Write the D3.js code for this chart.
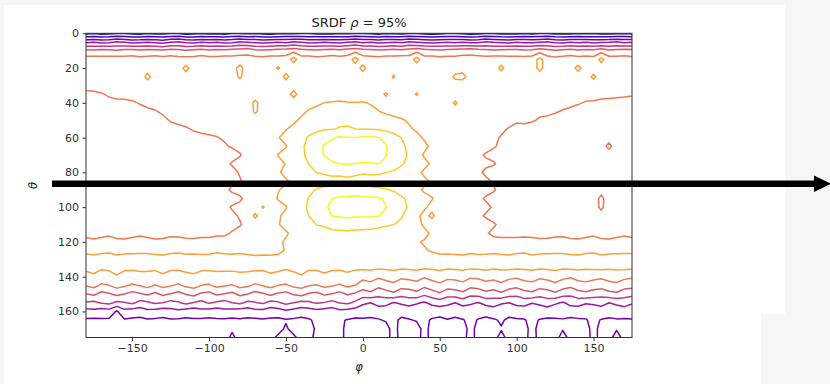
<!DOCTYPE html>
<html>
<head>
<meta charset="utf-8">
<script src="https://cdn.jsdelivr.net/npm/d3@7"></script>
<style>
  body { margin: 0; background: #fff; }
  svg { display: block; }
  text { font-family: "DejaVu Sans", sans-serif; white-space: pre; }
</style>
</head>
<body>
<svg id="chart" width="830" height="384"></svg>
<script>
// Grid of the SRDF histogram: phi columns from -180 to 175, theta rows from 0 to 175 (5 degree bins)
const phiStart = -180, phiStep = 5, phiCount = 72;
const thetaStart = 0, thetaStep = 5, thetaCount = 36;

// Contour levels drawn on the SRDF surface
const levels = [1, 2, 3, 4, 5, 6, 7, 8, 9, 10];

// Axis tick labels
const xTicks = [-150, -100, -50, 0, 50, 100, 150];
const yTicks = [0, 20, 40, 60, 80, 100, 120, 140, 160];

// SRDF values, one row per theta bin (72 phi bins each)
const srdf = [
[0.8,0.9,0.7,0.8,0.95,0.9,0.8,0.7,0.9,0.8,0.8,0.95,0.9,0.7,0.8,0.9,0.8,0.8,0.7,0.9,0.95,0.8,0.9,0.8,0.7,0.8,0.9,0.8,0.95,0.9,0.8,0.7,0.8,0.9,0.8,0.9,0.95,0.8,0.7,0.9,0.8,0.8,0.9,0.95,0.8,0.7,0.8,0.9,0.9,0.8,0.7,0.8,0.95,0.9,0.8,0.8,0.7,0.9,0.8,0.9,0.95,0.8,0.8,0.7,0.9,0.8,0.9,0.8,0.7,0.8,0.9,0.8],
[3.8,3.9,3.7,3.8,4.05,3.9,3.7,3.8,3.9,3.8,3.6,3.9,4.05,3.8,3.7,3.9,3.8,3.9,3.7,3.8,4.05,3.9,3.8,3.7,3.8,3.9,3.8,4.05,3.9,3.7,3.8,3.9,3.8,3.7,3.9,4.05,3.8,3.9,3.7,3.8,3.9,3.8,4.05,3.9,3.8,3.7,3.8,3.9,3.8,3.9,3.7,3.8,4.05,3.9,3.8,3.7,3.9,3.8,3.8,3.9,4.05,3.8,3.7,3.9,3.8,3.9,3.7,3.8,3.9,4.05,3.8,3.9],
[6.3,6.2,6.4,6.3,6.1,6.3,6.4,6.2,6.3,6.3,6.2,6.4,6.3,6.1,6.3,6.4,6.2,6.3,6.3,6.4,6.5,6.7,6.3,6.2,6.3,6.4,6.5,6.7,6.4,6.3,6.2,6.3,6.4,6.3,6.5,6.7,6.4,6.3,6.2,6.3,6.4,6.3,6.5,6.7,6.4,6.3,6.2,6.3,6.4,6.5,6.7,6.4,6.3,6.2,6.3,6.4,6.3,6.2,6.3,6.6,6.3,6.1,6.3,6.4,6.2,6.3,6.3,6.6,6.2,6.3,6.4,6.3],
[7.4,7.45,7.35,7.4,7.5,7.4,7.45,7.35,7.4,7.5,7.4,7.45,7.35,7.4,7.35,7.5,7.4,7.35,7.45,7.4,7.45,7.3,7.4,7.35,7.45,7.4,7.4,8.4,7.4,7.45,7.35,7.4,7.5,7.4,7.4,8.4,7.45,7.4,7.35,7.45,7.4,7.5,7.4,8.4,7.4,7.45,7.35,7.4,7.35,7.45,7.3,7.45,7.4,7.5,7.45,7.35,7.4,7.4,7.45,8.3,7.45,7.35,7.4,7.5,7.4,7.45,7.35,8.3,7.45,7.4,7.45,7.35],
[7.5,7.4,7.5,7.6,7.5,7.4,7.5,7.5,7.6,7.5,7.4,7.5,7.5,8.3,7.5,7.6,7.4,7.5,7.5,7.6,8.3,7.5,7.4,7.5,7.6,8.1,7.5,7.4,7.5,7.6,7.5,7.4,7.5,7.5,7.6,7.5,8.3,7.5,7.4,7.5,7.6,7.5,7.5,7.4,7.5,7.6,7.5,7.4,7.5,7.6,7.5,7.4,7.5,7.5,8.25,7.5,7.4,7.6,7.5,8.3,7.5,7.4,7.5,7.6,8.3,7.5,7.4,7.5,7.6,7.5,7.4,7.5],
[7.4,7.5,7.5,7.4,7.5,7.6,7.5,7.4,8.3,7.5,7.5,7.4,7.5,7.6,7.5,7.4,7.5,7.5,7.4,7.5,8.15,7.5,7.4,7.5,7.5,7.4,8.3,7.5,7.5,7.4,7.6,7.5,7.4,7.5,7.5,7.4,7.5,7.6,7.5,7.5,8.1,7.4,7.5,7.5,7.6,7.5,7.4,7.5,8.2,8.3,7.5,7.4,7.5,7.5,7.4,7.5,7.6,7.5,7.4,7.5,7.5,7.4,7.5,7.6,7.5,7.5,8.25,7.4,7.5,7.5,7.4,7.5],
[7.2,7.2,7.3,7.4,7.4,7.5,7.4,7.3,7.4,7.4,7.5,7.4,7.3,7.4,7.5,7.4,7.4,7.3,7.4,7.4,7.5,7.4,7.4,7.5,7.4,7.5,7.4,7.6,7.4,7.4,7.5,7.4,7.3,7.4,7.5,7.4,7.4,7.5,7.4,7.4,7.5,7.4,7.4,7.5,7.4,7.3,7.4,7.4,7.5,7.4,7.4,7.3,7.4,7.4,7.5,7.4,7.4,7.3,7.4,7.5,7.4,7.4,7.3,7.4,7.5,7.4,7.4,7.3,7.4,7.3,7.3,7.2],
[6.85,6.9,6.95,7.1,7.2,7.3,7.3,7.2,7.3,7.3,7.4,7.3,7.3,7.2,7.3,7.4,7.3,7.3,7.2,7.3,7.3,7.4,7.3,7.4,7.5,7.5,7.6,8.3,7.6,7.5,7.5,7.6,7.6,7.6,7.5,7.6,7.6,7.6,7.7,8.1,7.6,7.5,7.5,8.1,7.4,7.3,7.4,7.3,7.3,7.4,7.3,7.3,7.3,7.3,7.4,7.3,7.3,7.2,7.3,7.3,7.4,7.3,7.2,7.3,7.3,7.2,7.3,7.2,7.2,7.15,7.1,7.05],
[6.8,6.8,6.75,6.8,6.85,6.8,6.9,7.05,7.2,7.25,7.3,7.2,7.3,7.25,7.3,7.2,7.3,7.3,7.2,7.3,7.3,7.3,8.3,7.4,7.4,7.4,7.3,7.5,7.6,7.7,7.8,8.02,8.05,8.1,8.05,8.02,8.05,7.95,7.8,7.7,7.6,7.5,7.4,7.4,7.3,7.4,7.3,7.3,8.2,7.3,7.3,7.2,7.3,7.3,7.3,7.2,7.3,7.3,7.2,7.3,7.2,7.2,7.2,7.1,7.05,6.95,6.9,6.85,6.8,6.8,6.8,6.8],
[6.7,6.7,6.65,6.7,6.7,6.75,6.7,6.75,6.85,6.95,7.1,7.15,7.2,7.15,7.2,7.15,7.2,7.25,7.2,7.3,7.3,7.3,8.2,7.5,7.4,7.4,7.5,7.6,7.8,8.1,8.3,8.45,8.5,8.55,8.55,8.5,8.4,8.2,8.03,7.85,7.7,7.6,7.5,7.45,7.4,7.4,7.3,7.3,7.4,7.3,7.3,7.3,7.2,7.2,7.3,7.2,7.2,7.3,7.2,7.1,7.15,7.05,6.95,6.9,6.8,6.75,6.7,6.7,6.75,6.7,6.7,6.7],
[6.7,6.65,6.7,6.7,6.6,6.7,6.7,6.65,6.7,6.75,6.85,7.05,7.1,7.15,7.1,7.2,7.15,7.2,7.2,7.25,7.3,7.3,7.35,7.4,7.4,7.5,7.6,7.85,8.15,8.35,8.55,8.7,8.8,8.85,8.9,8.85,8.8,8.7,8.55,8.4,8.25,8.1,7.9,7.7,7.5,7.4,7.35,7.3,7.3,7.3,7.25,7.2,7.25,7.2,7.15,7.1,7.05,7.1,7.05,6.95,6.85,6.8,6.75,6.7,6.7,6.65,6.7,6.7,6.6,6.7,6.7,6.65],
[6.65,6.7,6.6,6.7,6.7,6.65,6.6,6.7,6.7,6.65,6.7,6.8,6.9,6.95,7.05,7.1,7.1,7.15,7.2,7.2,7.25,7.3,7.35,7.4,7.5,7.7,7.95,8.2,8.45,8.65,8.8,8.9,8.95,9.05,9.05,9.0,8.95,8.95,8.9,8.75,8.55,8.35,8.1,7.9,7.7,7.5,7.4,7.35,7.3,7.3,7.2,7.2,7.15,7.1,7.05,6.98,6.9,6.85,6.8,6.75,6.7,6.7,6.65,6.7,6.6,6.7,6.65,6.7,6.7,6.6,6.7,6.7],
[6.6,6.65,6.7,6.6,6.65,6.7,6.6,6.65,6.7,6.6,6.65,6.7,6.75,6.8,6.85,6.9,6.95,6.98,7.05,7.1,7.2,7.3,7.3,7.4,7.6,7.95,8.3,8.45,8.75,9.1,9.4,9.65,9.9,10.1,10.05,10.02,10.1,10.1,10.05,9.8,9.4,9.0,8.6,8.2,7.9,7.6,7.4,7.35,7.3,7.25,7.2,7.2,7.1,7.05,6.98,6.9,6.8,6.75,6.7,6.7,6.65,6.6,6.7,6.65,6.6,6.7,6.6,6.65,6.7,6.6,6.65,6.7],
[6.6,6.6,6.65,6.7,6.6,6.6,6.7,6.65,6.6,6.6,6.7,6.65,6.7,6.7,6.75,6.8,6.85,6.9,6.95,7.05,7.15,7.3,7.3,7.35,7.6,7.6,7.95,8.5,8.85,9.25,9.7,10.1,10.4,10.5,10.5,10.5,10.5,10.4,10.3,10.05,9.6,9.2,8.8,8.4,8.2,7.8,7.5,7.4,7.3,7.2,7.2,7.15,7.15,7.05,6.9,6.8,6.75,6.7,6.7,6.65,6.6,6.7,6.65,6.6,6.7,6.6,6.6,6.65,7.2,6.6,6.65,6.6],
[6.6,6.65,6.6,6.6,6.7,6.65,6.6,6.6,6.7,6.65,6.6,6.7,6.65,6.7,6.7,6.75,6.8,6.8,6.85,6.8,6.95,7.25,7.3,7.35,7.55,8.05,8.3,8.45,8.85,9.2,9.6,10.05,10.3,10.4,10.4,10.4,10.3,10.3,10.2,10.05,9.6,9.25,8.9,8.3,7.9,7.6,7.5,7.4,7.3,7.2,7.2,7.1,6.95,6.85,6.8,6.8,6.7,6.7,6.65,6.6,6.7,6.6,6.6,6.65,6.7,6.6,6.6,6.7,6.6,6.65,6.6,6.6],
[6.6,6.6,6.7,6.65,6.6,6.6,6.65,6.7,6.6,6.6,6.65,6.6,6.7,6.65,6.7,6.75,6.75,6.8,6.85,7.05,7.2,7.2,7.3,7.35,7.5,7.7,8.05,8.4,8.7,9.02,9.3,9.6,9.9,10.02,10.05,9.98,9.95,9.95,10.02,9.8,9.4,9.1,8.8,8.5,8.25,7.85,7.5,7.4,7.3,7.2,7.15,7.1,7.1,7.05,6.85,6.8,6.7,6.65,6.7,6.6,6.6,6.65,6.7,6.6,6.6,6.65,6.6,6.7,6.6,6.6,6.65,6.6],
[6.6,6.65,6.6,6.7,6.6,6.65,6.6,6.6,6.7,6.6,6.6,6.65,6.7,6.6,6.7,6.7,6.75,6.8,6.85,6.85,7.05,7.2,7.3,7.35,7.5,7.9,8.25,8.3,8.5,8.8,9.02,9.1,9.2,9.15,9.2,9.1,9.05,9.1,9.1,9.02,8.9,8.7,8.5,8.2,7.85,7.6,7.5,7.4,7.3,7.2,7.15,7.1,6.9,6.8,6.85,6.8,6.7,6.7,6.6,6.65,6.6,6.6,6.7,6.6,6.65,6.6,6.6,6.6,6.7,6.6,6.6,6.65],
[6.6,6.6,6.65,6.6,6.7,6.6,6.65,6.6,6.6,6.7,6.6,6.6,6.7,6.65,6.7,6.7,6.75,6.8,6.85,6.9,6.95,7.2,7.3,7.35,7.45,7.5,7.9,8.2,8.4,8.5,8.6,8.7,8.75,8.8,8.85,8.85,8.8,8.75,8.7,8.6,8.5,8.4,8.3,8.3,8.15,7.9,7.6,7.45,7.3,7.2,7.15,7.1,7.1,6.95,6.85,6.8,6.7,6.65,6.6,6.7,6.6,6.6,6.65,6.6,6.6,6.7,6.6,6.65,6.6,6.6,6.7,6.6],
[6.65,6.6,6.6,6.7,6.6,6.65,6.7,6.6,6.6,6.65,6.7,6.6,6.65,6.7,6.7,6.75,6.75,6.8,6.85,7.1,7.2,7.2,7.3,7.35,7.45,7.95,8.2,8.3,8.5,8.8,9.05,9.15,9.2,9.25,9.3,9.3,9.2,9.15,9.1,9.05,8.9,8.6,8.4,8.15,7.9,7.7,7.6,7.45,7.3,7.2,7.15,7.1,7.15,7.05,6.85,6.8,6.7,6.7,6.65,6.6,6.7,6.6,6.6,6.65,6.7,6.6,6.6,6.7,6.65,6.6,6.6,6.7],
[6.6,6.65,6.7,6.6,6.6,6.7,6.65,6.6,6.7,6.6,6.6,6.65,6.7,6.7,6.65,6.75,6.8,6.8,6.85,6.8,6.9,7.2,7.3,7.35,7.5,8.1,8.3,8.4,8.7,9.05,9.4,9.7,9.98,10.2,10.2,10.3,10.2,10.2,10.1,9.9,9.5,9.15,8.8,8.5,8.2,8.05,7.6,7.45,7.3,7.2,7.15,7.1,6.95,6.85,6.85,6.75,6.7,6.65,6.7,6.6,6.6,6.7,6.65,6.6,6.6,6.7,6.6,7.2,6.6,6.65,6.7,6.6],
[6.65,6.6,6.7,6.6,6.65,6.6,6.7,6.6,6.65,6.7,6.6,6.6,6.7,6.65,6.7,6.7,6.75,6.8,6.85,7.05,7.15,7.2,7.3,8.1,7.5,7.6,7.95,8.5,8.8,9.1,9.5,9.85,10.2,10.4,10.4,10.4,10.4,10.3,10.3,10.02,9.6,9.3,8.9,8.4,8.1,7.8,7.6,7.45,7.3,7.2,7.15,7.1,7.1,6.95,6.85,6.8,6.7,6.6,6.65,6.7,6.6,6.6,6.7,6.65,6.6,6.6,6.7,7.15,6.6,6.7,6.6,6.65],
[6.7,6.65,6.6,6.7,6.7,6.6,6.65,6.7,6.6,6.7,6.65,6.7,6.6,6.7,6.75,6.7,6.8,6.8,6.85,6.9,7.05,7.2,8.25,7.35,7.5,7.9,8.2,8.4,8.7,9.02,9.3,9.6,10.02,10.1,10.2,10.1,10.1,10.1,10.05,9.8,9.4,9.1,8.6,8.15,7.8,8.15,7.6,7.45,7.3,7.2,7.15,7.1,6.95,6.85,6.85,6.8,6.75,6.7,6.7,6.65,6.7,6.6,6.7,6.7,6.65,6.7,6.6,6.7,6.65,6.7,6.7,6.65],
[6.75,6.7,6.75,6.7,6.75,6.8,6.7,6.75,6.7,6.75,6.8,6.75,6.7,6.75,6.8,6.8,6.8,6.85,6.9,6.85,6.95,7.2,7.3,7.35,7.5,7.95,8.25,8.3,8.5,8.7,9.02,9.1,9.3,9.4,9.4,9.35,9.3,9.3,9.2,9.1,9.02,8.8,8.5,8.2,7.9,7.65,7.6,7.45,7.3,7.2,7.15,7.1,7.15,7.05,6.9,6.85,6.8,6.75,6.8,6.75,6.7,6.75,6.8,6.75,6.7,6.8,6.75,6.7,6.75,6.8,6.75,6.7],
[6.85,6.8,6.85,6.9,6.85,6.8,6.85,6.9,6.85,6.8,6.85,6.9,6.85,6.8,6.85,6.9,6.85,6.9,6.9,7.05,7.2,7.2,7.3,7.4,7.5,7.6,7.9,8.2,8.4,8.5,8.6,8.7,8.8,8.8,8.85,8.8,8.8,8.75,8.7,8.6,8.5,8.4,8.3,8.3,8.15,7.9,7.65,7.5,7.35,7.2,7.15,7.1,7.05,6.9,6.9,6.9,6.85,6.85,6.9,6.85,6.8,6.85,6.9,6.85,6.8,6.85,6.9,6.85,6.8,6.85,6.9,6.85],
[7.15,7.1,7.15,7.2,7.1,7.1,7.15,7.2,7.15,7.1,7.1,7.15,7.2,7.15,7.1,7.1,7.15,7.2,7.2,7.25,7.3,7.4,7.4,7.45,7.5,7.85,8.1,8.1,8.3,8.4,8.4,8.5,8.5,8.5,8.5,8.5,8.4,8.4,8.4,8.3,8.3,8.2,8.1,8.05,7.95,7.8,7.6,7.5,7.4,7.3,7.25,7.2,7.2,7.15,7.1,7.1,7.15,7.2,7.1,7.1,7.15,7.2,7.15,7.1,7.1,7.15,7.2,7.1,7.1,7.15,7.2,7.15],
[7.85,7.8,7.85,7.9,7.8,7.8,7.85,7.9,7.85,7.8,7.8,7.85,7.9,7.85,7.8,7.8,7.85,7.9,7.85,7.85,7.85,7.8,7.75,7.7,7.7,7.85,8.05,8.1,8.2,8.25,8.3,8.3,8.3,8.3,8.3,8.3,8.3,8.3,8.25,8.2,8.2,8.2,8.1,8.1,8.05,7.95,7.85,7.8,7.8,7.8,7.85,7.8,7.85,7.85,7.8,7.8,7.85,7.9,7.8,7.8,7.85,7.9,7.85,7.8,7.8,7.85,7.9,7.8,7.8,7.85,7.9,7.85],
[8.25,8.2,8.3,8.25,8.2,8.3,8.25,8.2,8.3,8.25,8.2,8.3,8.25,8.2,8.3,8.25,8.2,8.3,8.25,8.2,8.3,8.25,8.2,8.3,8.25,8.2,8.3,8.25,8.2,8.3,8.25,8.2,8.3,8.25,8.2,8.3,8.25,8.2,8.3,8.25,8.2,8.3,8.25,8.2,8.3,8.25,8.2,8.3,8.25,8.2,8.3,8.25,8.2,8.3,8.25,8.2,8.3,8.25,8.2,8.3,8.25,8.2,8.3,8.25,8.2,8.3,8.25,8.2,8.3,8.25,8.2,8.3],
[8.15,8.2,8.1,8.15,8.2,8.1,8.15,8.2,8.1,8.15,8.2,8.1,8.15,8.2,8.1,8.15,8.2,8.1,8.15,8.2,8.1,8.15,8.2,8.1,8.15,8.2,8.1,8.15,8.2,8.1,8.15,8.2,8.1,8.15,8.2,8.1,8.15,8.2,8.1,8.15,8.2,8.1,8.15,8.2,8.1,8.15,8.2,8.1,8.15,8.2,8.1,8.15,8.2,8.1,8.15,8.2,8.1,8.15,8.2,8.1,8.15,8.2,8.1,8.15,8.2,8.1,8.15,8.2,8.1,8.15,8.2,8.1],
[7.75,7.9,7.6,7.7,7.95,7.8,7.55,7.7,7.85,7.65,7.9,7.75,7.6,7.8,7.95,7.7,7.6,7.85,7.75,7.65,7.9,7.8,7.6,7.75,7.9,7.7,7.55,7.8,7.95,7.7,7.65,7.85,7.75,7.6,7.8,7.7,7.3,7.45,7.15,7.35,7.5,7.2,7.3,7.4,7.1,7.35,7.5,7.25,7.3,7.45,7.15,7.2,7.4,7.3,7.5,7.25,7.15,7.35,7.45,7.2,7.3,7.5,7.25,7.1,7.35,7.45,7.3,7.2,7.4,7.5,7.25,7.15],
[7.1,7.3,6.85,7.0,7.35,7.15,6.9,7.05,7.3,6.95,7.25,7.1,6.85,7.2,7.35,7.0,6.9,7.25,7.1,6.95,7.3,7.15,6.85,7.05,7.3,7.0,6.9,7.2,7.35,7.05,6.95,7.25,7.1,6.9,7.2,7.0,6.5,6.7,6.3,6.55,6.75,6.4,6.45,6.65,6.25,6.55,6.8,6.45,6.5,6.7,6.3,6.4,6.65,6.5,6.75,6.45,6.3,6.6,6.7,6.4,6.5,6.75,6.45,6.25,6.6,6.7,6.5,6.4,6.65,6.75,6.45,6.35],
[5.95,6.2,5.7,5.9,6.25,6.0,5.65,5.9,6.15,5.8,6.2,5.95,5.7,6.05,6.3,5.85,5.7,6.15,5.95,5.75,6.2,6.0,5.65,5.9,6.2,5.85,5.7,6.1,6.3,5.9,5.75,6.15,5.95,5.7,6.1,5.85,5.5,5.75,5.25,5.55,5.8,5.35,5.45,5.7,5.2,5.55,5.85,5.4,5.5,5.75,5.25,5.35,5.7,5.5,5.8,5.4,5.25,5.6,5.75,5.35,5.5,5.8,5.4,5.2,5.6,5.75,5.5,5.35,5.7,5.8,5.4,5.3],
[4.9,4.75,5.1,5.25,4.8,4.95,5.2,4.7,4.85,5.15,5.0,4.7,4.9,5.25,4.95,4.75,5.1,4.85,4.65,5.0,5.2,4.8,4.95,5.15,4.7,4.9,5.25,5.0,4.75,4.85,5.1,4.95,4.7,5.05,5.2,4.8,4.2,4.0,4.45,4.3,3.95,4.15,4.4,4.1,3.9,4.25,4.5,4.2,4.0,4.35,4.15,3.95,4.3,4.45,4.1,4.0,4.25,4.4,4.05,4.2,4.5,4.15,3.9,4.3,4.4,4.1,4.2,4.35,4.0,4.25,4.45,4.1],
[3.6,3.75,3.45,3.55,2.9,3.7,3.5,3.4,3.75,3.6,3.45,3.65,3.8,3.5,3.4,3.7,3.55,3.45,3.75,3.6,3.5,3.4,3.7,3.65,3.45,3.55,3.8,3.6,3.4,3.5,3.7,3.55,3.45,3.75,3.6,3.5,3.35,3.45,3.3,3.4,3.5,3.3,3.35,3.45,3.3,3.4,3.35,3.5,3.3,3.4,3.45,3.3,3.35,3.5,3.4,3.3,3.45,3.35,3.3,3.4,3.5,3.35,3.3,3.45,3.4,3.3,3.35,3.5,3.4,3.3,3.45,3.35],
[2.85,2.8,2.9,2.85,2.8,2.9,2.85,2.8,2.9,2.85,2.8,2.9,2.85,2.8,2.9,2.85,2.8,2.9,2.85,2.8,2.9,2.85,2.8,2.9,2.85,2.8,2.9,2.85,2.8,2.9,3.2,3.15,3.25,3.1,2.95,2.85,2.9,2.8,2.95,3.05,3.2,2.85,2.95,3.05,3.2,2.9,2.8,2.95,2.85,2.95,3.2,2.95,2.8,2.9,3.1,2.85,2.9,2.95,3.2,2.95,2.85,2.9,2.95,2.8,2.9,2.95,3.2,2.95,2.85,2.95,2.9,2.95],
[2.6,2.65,2.55,2.6,2.65,2.55,2.6,2.65,2.55,2.6,2.65,2.55,2.6,2.65,2.55,2.6,2.65,2.55,2.6,2.9,2.55,2.6,2.65,2.55,2.6,2.65,3.15,2.6,2.65,2.55,3.2,3.25,3.2,3.2,2.8,2.75,2.8,2.8,2.75,2.8,3.2,2.8,2.8,2.75,3.2,2.8,2.75,2.8,2.8,2.75,3.2,2.8,2.8,2.75,2.95,2.8,2.75,2.8,3.2,2.8,2.75,2.8,2.95,2.8,2.75,2.8,3.2,2.8,2.75,2.95,2.8,2.75],
[2.7,2.65,2.75,2.7,2.65,2.75,2.7,2.65,2.75,2.7,2.65,2.75,2.7,2.65,2.75,2.7,2.65,2.75,2.7,3.15,2.75,2.7,2.65,2.75,2.7,3.2,3.25,3.2,2.65,2.75,3.25,3.2,3.25,3.2,2.8,2.8,2.75,2.8,2.8,2.75,3.25,2.8,2.75,2.8,3.2,2.8,2.8,2.75,2.8,2.8,3.25,2.75,2.8,2.8,3.2,2.8,2.75,2.8,3.25,2.8,2.8,2.75,3.25,2.8,2.8,2.75,3.2,2.8,2.8,3.25,2.8,2.75]
];

const W = 830, H = 384;
const plot = { left: 86, right: 632, top: 33.3, bottom: 337.5 };

const svg = d3.select("#chart");

// page backdrop with the white figure panel
svg.append("rect").attr("width", W).attr("height", H).attr("fill", "#f6f6f6");
svg.append("path").attr("d", "M4,5H785V314H761V384H4Z").attr("fill", "#ffffff");

const x = d3.scaleLinear().domain([phiStart, phiStart + phiStep * (phiCount - 1)]).range([plot.left, plot.right]);
const y = d3.scaleLinear().domain([thetaStart, thetaStart + thetaStep * (thetaCount - 1)]).range([plot.top, plot.bottom]);

svg.append("clipPath").attr("id", "plot-clip")
  .append("rect")
  .attr("x", plot.left).attr("y", plot.top)
  .attr("width", plot.right - plot.left).attr("height", plot.bottom - plot.top);

// contour lines of the SRDF surface
const values = srdf.flat();
const contours = d3.contours().size([phiCount, thetaCount]).thresholds(levels)(values);

// grid sample (i, j) sits at contour coordinate (i + 0.5, j + 0.5)
const gridToPixels = d3.geoTransform({
  point(u, v) {
    this.stream.point(x(phiStart + (u - 0.5) * phiStep), y(thetaStart + (v - 0.5) * thetaStep));
  }
});
const path = d3.geoPath(gridToPixels);
const lo = d3.min(levels), hi = d3.max(levels);

svg.append("g")
  .attr("clip-path", "url(#plot-clip)")
  .selectAll("path")
  .data(contours)
  .join("path")
  .attr("d", path)
  .attr("fill", "none")
  .attr("stroke", d => d3.interpolatePlasma((d.value - lo) / (hi - lo)))
  .attr("stroke-width", 1.5)
  .attr("stroke-linejoin", "round");

// axes
const fmt = d => (d < 0 ? "\u2212" + Math.abs(d) : String(d));
const xAxis = svg.append("g")
  .attr("transform", `translate(0,${plot.bottom})`)
  .call(d3.axisBottom(x).tickValues(xTicks).tickFormat(fmt).tickSize(3.5).tickPadding(3.5));
const yAxis = svg.append("g")
  .attr("transform", `translate(${plot.left},0)`)
  .call(d3.axisLeft(y).tickValues(yTicks).tickFormat(fmt).tickSize(3.5).tickPadding(3.5));
[xAxis, yAxis].forEach(g => {
  g.select(".domain").remove();
  g.selectAll(".tick line").attr("stroke", "#333");
  g.selectAll(".tick text")
    .attr("fill", "#333")
    .attr("font-size", 11)
    .attr("font-family", "DejaVu Sans, sans-serif");
});

// frame
svg.append("rect")
  .attr("x", plot.left).attr("y", plot.top)
  .attr("width", plot.right - plot.left).attr("height", plot.bottom - plot.top)
  .attr("fill", "none").attr("stroke", "#333").attr("stroke-width", 1);

// title
const title = svg.append("text")
  .attr("x", (plot.left + plot.right) / 2).attr("y", 27)
  .attr("text-anchor", "middle").attr("font-size", 13).attr("fill", "#222");
title.append("tspan").text("SRDF ");
title.append("tspan").attr("font-style", "italic").text("\u03c1");
title.append("tspan").text(" = 95%");

// axis labels
svg.append("text")
  .attr("x", (plot.left + plot.right) / 2).attr("y", 371)
  .attr("text-anchor", "middle").attr("font-size", 11.5).attr("font-style", "italic").attr("fill", "#222")
  .text("\u03c6");
svg.append("text")
  .attr("transform", `translate(37,${(plot.top + plot.bottom) / 2}) rotate(-90)`)
  .attr("text-anchor", "middle").attr("font-size", 11.5).attr("font-style", "italic").attr("fill", "#222")
  .text("\u03b8");

// arrow across the figure
svg.append("line")
  .attr("x1", 52).attr("y1", 183.8).attr("x2", 818).attr("y2", 183.8)
  .attr("stroke", "#000").attr("stroke-width", 6.5);
svg.append("path")
  .attr("d", "M814,175.5L831,183.8L814,192Z")
  .attr("fill", "#000");
</script>
</body>
</html>
